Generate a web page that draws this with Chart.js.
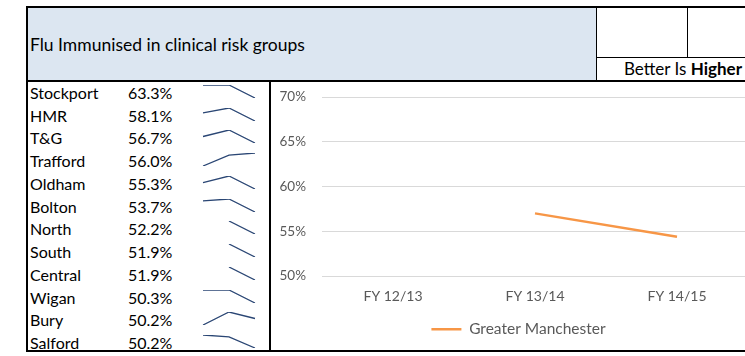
<!DOCTYPE html>
<html lang="en">
<head>
<meta charset="utf-8">
<title>Flu Immunised in clinical risk groups</title>
<script src="https://cdn.jsdelivr.net/npm/chart.js@4.4.0/dist/chart.umd.min.js"></script>
<style>
  html, body { margin: 0; padding: 0; }
  body {
    width: 745px; height: 356px; overflow: hidden; position: relative;
    background: #fff; font-family: Lato, "Open Sans", sans-serif; color: #000;
  }
  .caja { position: absolute; box-sizing: border-box; }
  #cabecera {
    left: 26px; top: 6px; width: 571px; height: 76px;
    background: #dce6f1; border: 2px solid #000; border-right: 1px solid #000;
  }
  #titulo { position: absolute; left: 2px; top: 26px; font-size: 17.5px; white-space: nowrap; }
  #celda1 { left: 596px; top: 6px; width: 92px; height: 52px; border-top: 2px solid #000; border-right: 1px solid #000; border-bottom: 1px solid #000; }
  #celda2 { left: 687px; top: 6px; width: 70px; height: 52px; border-top: 2px solid #000; border-bottom: 1px solid #000; }
  #celda3 { left: 596px; top: 57px; width: 160px; height: 25px; border-bottom: 2px solid #000; }
  #mejor { position: absolute; right: 14px; top: 1px; font-size: 17px; white-space: nowrap; }
  #tabla {
    left: 26px; top: 80px; width: 245px; height: 272px;
    border-left: 2px solid #000; border-right: 2px solid #000; border-bottom: 2px solid #000;
  }
  #marcoGrafico { left: 269px; top: 80px; width: 490px; height: 272px; border-bottom: 2px solid #000; }
  .fila { position: absolute; left: 30px; height: 22px; font-size: 16px; white-space: nowrap; }
  .fila .pct { position: absolute; left: 98px; }
  .chispa { position: absolute; left: 201px; }
  #grafico { position: absolute; left: 271px; top: 73px; }
</style>
</head>
<body>
<div id="cabecera" class="caja"><div id="titulo">Flu Immunised in clinical risk groups</div></div>
<div id="celda1" class="caja"></div>
<div id="celda2" class="caja"></div>
<div id="celda3" class="caja"><div id="mejor">Better Is <b>Higher</b></div></div>
<div id="tabla" class="caja"></div>
<div id="marcoGrafico" class="caja"></div>
<canvas id="grafico" width="477" height="277"></canvas>

<script>
// Datos por área: FY 12/13, FY 13/14 y último valor (FY 14/15)
const areas = ['Stockport', 'HMR', 'T&G', 'Trafford', 'Oldham', 'Bolton', 'North', 'South', 'Central', 'Wigan', 'Bury', 'Salford'];
const valoresFY1213 = [66.1, 59.9, 58.1, 53.0, 56.6, 56.1, null, null, null, 53.1, 48.9, 53.0];
const valoresFY1314 = [66.1, 61.0, 59.5, 55.5, 58.0, 56.5, 55.0, 54.6, 54.3, 53.1, 51.5, 52.6];
const valoresFY1415 = [63.3, 58.1, 56.7, 56.0, 55.3, 53.7, 52.2, 51.9, 51.9, 50.3, 50.2, 50.2];

// Gráfico principal
const periodos = ['FY 12/13', 'FY 13/14', 'FY 14/15'];
const greaterManchester = [null, 57.0, 54.4];
const ticksEje = [50, 55, 60, 65, 70];

const colorChispa = '#2a4674';
const altoFila = 22.73;

// Filas de la tabla con su sparkline
areas.forEach(function(nombre, i) {
  const fila = document.createElement('div');
  fila.className = 'fila';
  fila.style.top = (83 + i * altoFila) + 'px';
  fila.textContent = nombre;
  const pct = document.createElement('span');
  pct.className = 'pct';
  pct.textContent = valoresFY1415[i].toFixed(1) + '%';
  fila.appendChild(pct);
  document.body.appendChild(fila);

  const lienzo = document.createElement('canvas');
  lienzo.className = 'chispa';
  lienzo.width = 56;
  lienzo.height = 17;
  lienzo.style.top = (83 + i * altoFila) + 'px';
  document.body.appendChild(lienzo);

  // cada sparkline usa su propio mínimo y máximo
  const valores = [valoresFY1213[i], valoresFY1314[i], valoresFY1415[i]];
  const presentes = valores.filter(function(v) { return v !== null; });

  new Chart(lienzo.getContext('2d'), {
    type: 'line',
    data: {
      labels: periodos,
      datasets: [{
        data: valores,
        borderColor: colorChispa,
        borderWidth: 1.3,
        pointRadius: 0,
        tension: 0
      }]
    },
    options: {
      responsive: false,
      animation: false,
      events: [],
      layout: { padding: 2 },
      plugins: { legend: { display: false }, tooltip: { enabled: false } },
      scales: {
        x: { display: false, offset: false },
        y: { display: false, min: Math.min.apply(null, presentes), max: Math.max.apply(null, presentes) }
      }
    }
  });
});

// La leyenda va centrada bajo todo el gráfico, un poco a la derecha
const moverLeyenda = {
  id: 'moverLeyenda',
  afterLayout: function(chart) {
    chart.legend.left += 6;
    chart.legend.right += 6;
  }
};

const ctx = document.getElementById('grafico').getContext('2d');
const miGrafico = new Chart(ctx, {
  type: 'line',
  data: {
    labels: periodos,
    datasets: [{
      label: 'Greater Manchester',
      data: greaterManchester,
      borderColor: '#f79646',
      backgroundColor: '#f79646',
      borderWidth: 2.5,
      pointRadius: 0,
      tension: 0
    }]
  },
  plugins: [moverLeyenda],
  options: {
    responsive: false,
    animation: false,
    layout: { padding: { left: 6, right: 0, top: 0, bottom: 3 } },
    plugins: {
      tooltip: { enabled: false },
      legend: {
        position: 'bottom',
        labels: {
          usePointStyle: true,
          pointStyle: 'line',
          pointStyleWidth: 30,
          padding: 10,
          color: '#595959',
          font: { family: 'Lato', size: 15.5 }
        }
      }
    },
    scales: {
      x: {
        offset: true,
        grid: { display: false, drawTicks: false },
        border: { display: false },
        ticks: { color: '#595959', padding: 12, font: { family: 'Lato', size: 14 } },
        afterFit: function(s) { s.height = 35.5; }
      },
      y: {
        min: ticksEje[0],
        max: ticksEje[ticksEje.length - 1],
        grid: { color: '#d9d9d9', drawTicks: false },
        border: { display: false },
        afterBuildTicks: function(s) { s.ticks = ticksEje.map(function(v) { return { value: v }; }); },
        afterFit: function(s) { s.width = 45; },
        ticks: {
          color: '#595959',
          padding: 16,
          font: { family: 'Lato', size: 13.5 },
          callback: function(v) { return v + '%'; }
        }
      }
    }
  }
});
</script>
</body>
</html>
